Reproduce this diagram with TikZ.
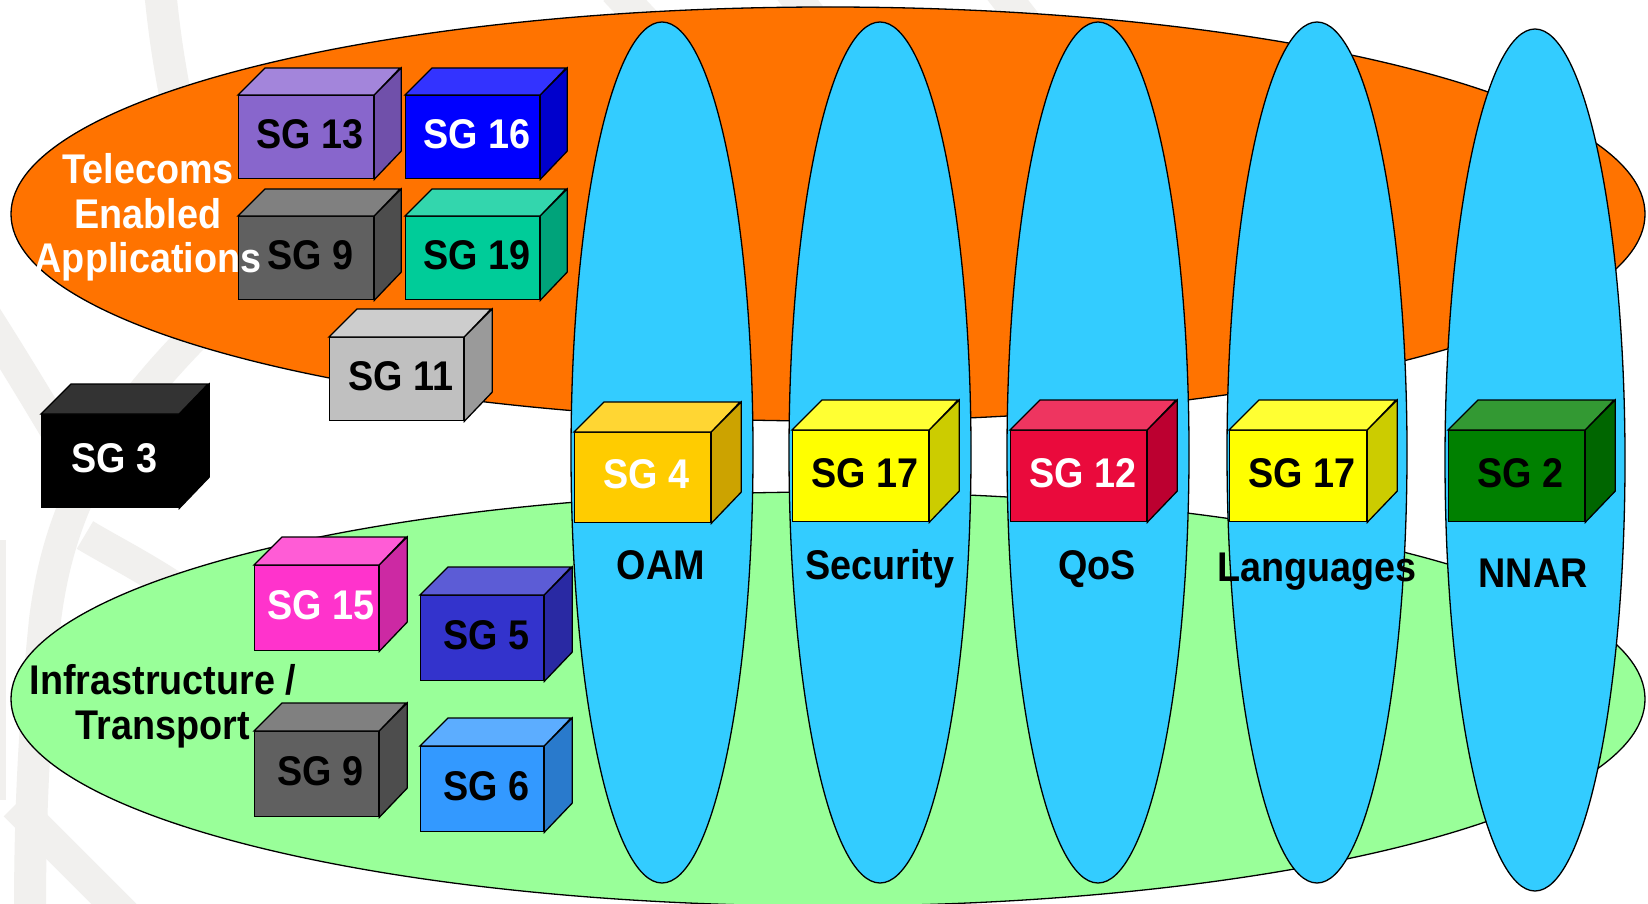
\documentclass[tikz,border=0pt]{standalone}
\usepackage{fontspec}
\setmainfont{Liberation Sans}
\usepackage{graphicx}
\definecolor{orng}{HTML}{FF7300}
\definecolor{lgrn}{HTML}{99FF99}
\definecolor{cyanb}{HTML}{33CCFF}
\definecolor{wmark}{HTML}{F1F0EE}
\definecolor{purF}{HTML}{8866CC}\definecolor{purT}{HTML}{A385DB}\definecolor{purS}{HTML}{7050AA}
\definecolor{bluF}{HTML}{0000FF}\definecolor{bluT}{HTML}{3333FF}\definecolor{bluS}{HTML}{0000CC}
\definecolor{gryF}{HTML}{606060}\definecolor{gryT}{HTML}{808080}\definecolor{gryS}{HTML}{4D4D4D}
\definecolor{teaF}{HTML}{00CC99}\definecolor{teaT}{HTML}{33D6AD}\definecolor{teaS}{HTML}{00A37A}
\definecolor{lgrF}{HTML}{C0C0C0}\definecolor{lgrT}{HTML}{CDCDCD}\definecolor{lgrS}{HTML}{9A9A9A}
\definecolor{blkF}{HTML}{000000}\definecolor{blkT}{HTML}{333333}\definecolor{blkS}{HTML}{000000}
\definecolor{pnkF}{HTML}{FF33CC}\definecolor{pnkT}{HTML}{FF5CD6}\definecolor{pnkS}{HTML}{CC29A3}
\definecolor{indF}{HTML}{3333CC}\definecolor{indT}{HTML}{5C5CD6}\definecolor{indS}{HTML}{2929A3}
\definecolor{skyF}{HTML}{3399FF}\definecolor{skyT}{HTML}{5CADFF}\definecolor{skyS}{HTML}{297ACC}
\definecolor{ambF}{HTML}{FFCC00}\definecolor{ambT}{HTML}{FFD633}\definecolor{ambS}{HTML}{CCA300}
\definecolor{yelF}{HTML}{FFFF00}\definecolor{yelT}{HTML}{FFFF33}\definecolor{yelS}{HTML}{CCCC00}
\definecolor{redF}{HTML}{EA0A3C}\definecolor{redT}{HTML}{EE3560}\definecolor{redS}{HTML}{BC0030}
\definecolor{grnF}{HTML}{008000}\definecolor{grnT}{HTML}{339933}\definecolor{grnS}{HTML}{006600}
\newcommand{\lbl}[1]{\scalebox{0.91}[1]{\fontsize{41.5}{45}\selectfont\bfseries #1}}
\tikzset{
  edge/.style={draw=black, line width=1.3pt},
  cubefront/.style={edge, rectangle, inner sep=0pt, anchor=north west},
  wm/.style={draw=wmark, line width=32pt},
  lab/.style={anchor=base, inner sep=0pt},
}
\newcommand{\sgcube}[9]{%
  \node[cubefront, fill=#7F, minimum width=#4pt, minimum height=#5pt] (#1) at (#2,#3) {};
  \draw[edge, fill=#7T] (#1.north west) -- ++(#6,-#6) -- ++(#4,0) -- (#1.north east) -- cycle;
  \draw[edge, fill=#7S] (#1.north east) -- ++(#6,-#6) -- ++(0,#5) -- (#1.south east) -- cycle;
  \node[inner sep=0pt, text=#8] (#1l) at ([xshift=4pt,yshift=3pt]#1.center) {\lbl{#9}};
}
\begin{document}
\begin{tikzpicture}[x=1pt,y=-1pt]
\useasboundingbox (0,0) rectangle (1648,904);
\fill[white] (0,0) rectangle (1648,904);
% watermark
\begin{scope}
\clip (0,0) rectangle (1648,904);
\draw[wm] (160,-10) .. controls (165,40) and (170,70) .. (180,120);
\draw[wm] (-15,315) .. controls (20,370) and (50,420) .. (88,485);
\draw[wm] (205,325) .. controls (110,420) and (60,500) .. (45,620) .. controls (35,720) and (30,800) .. (30,915);
\draw[wm] (85,535) .. controls (110,550) and (140,565) .. (175,588);
\draw[wm] (-10,540) -- (-10,800);
\draw[wm] (15,805) -- (125,915);
\draw[wm] (615,-10) -- (645,22);
\draw[wm] (790,-10) -- (815,22);
\draw[wm] (1000,-10) -- (1025,22);
\end{scope}
% big ellipses
\draw[edge, fill=orng] (828,214) ellipse [x radius=817, y radius=207];
\draw[edge, fill=lgrn] (828,699) ellipse [x radius=817, y radius=207];
% left cubes
\sgcube{sgA}{238}{95}{135}{83}{27}{pur}{black}{SG 13}
\sgcube{sgB}{405}{95}{134}{83}{27}{blu}{white}{SG 16}
\sgcube{sgC}{238}{216}{135}{83}{27}{gry}{black}{SG 9}
\sgcube{sgD}{405}{216}{134}{83}{27}{tea}{black}{SG 19}
\sgcube{sgE}{329}{337}{134}{83}{28}{lgr}{black}{SG 11}
\sgcube{sgF}{41}{414}{137}{93}{30}{blk}{white}{SG 3}
\sgcube{sgG}{254}{565}{124}{85}{28}{pnk}{white}{SG 15}
\sgcube{sgH}{420}{595}{123}{85}{28}{ind}{black}{SG 5}
\sgcube{sgI}{254}{731}{124}{85}{28}{gry}{black}{SG 9}
\sgcube{sgJ}{420}{746}{123}{85}{28}{sky}{black}{SG 6}
% vertical ellipses
\draw[edge, fill=cyanb] (662,452.5) ellipse [x radius=91, y radius=430.5];
\draw[edge, fill=cyanb] (880,452.5) ellipse [x radius=91, y radius=430.5];
\draw[edge, fill=cyanb] (1098,452.5) ellipse [x radius=91, y radius=430.5];
\draw[edge, fill=cyanb] (1317,452.5) ellipse [x radius=90, y radius=430.5];
\draw[edge, fill=cyanb] (1535,460) ellipse [x radius=90, y radius=431];
% centre cubes
\sgcube{sgK}{574}{432}{136}{90}{30}{amb}{white}{SG 4}
\sgcube{sgL}{792}{430}{136}{91}{30}{yel}{black}{SG 17}
\sgcube{sgM}{1010}{430}{136}{91}{30}{red}{white}{SG 12}
\sgcube{sgN}{1229}{430}{137}{91}{30}{yel}{black}{SG 17}
\sgcube{sgO}{1448}{430}{136}{91}{30}{grn}{black}{SG 2}
% labels
\node[lab, text=white] (tea1) at (148,184) {\lbl{Telecoms}};
\node[lab, text=white] (tea2) at (148,229) {\lbl{Enabled}};
\node[lab, text=white] (tea3) at (148,272) {\lbl{Applications}};
\node[lab] (inf1) at (163,694) {\lbl{Infrastructure /}};
\node[lab] (inf2) at (163,739) {\lbl{Transport}};
\node[lab] (oam) at (661,579) {\lbl{OAM}};
\node[lab] (sec) at (880,579) {\lbl{Security}};
\node[lab] (qos) at (1097,579) {\lbl{QoS}};
\node[lab] (lang) at (1317,581) {\lbl{Languages}};
\node[lab] (nnar) at (1533,587) {\lbl{NNAR}};
\end{tikzpicture}
\end{document}
